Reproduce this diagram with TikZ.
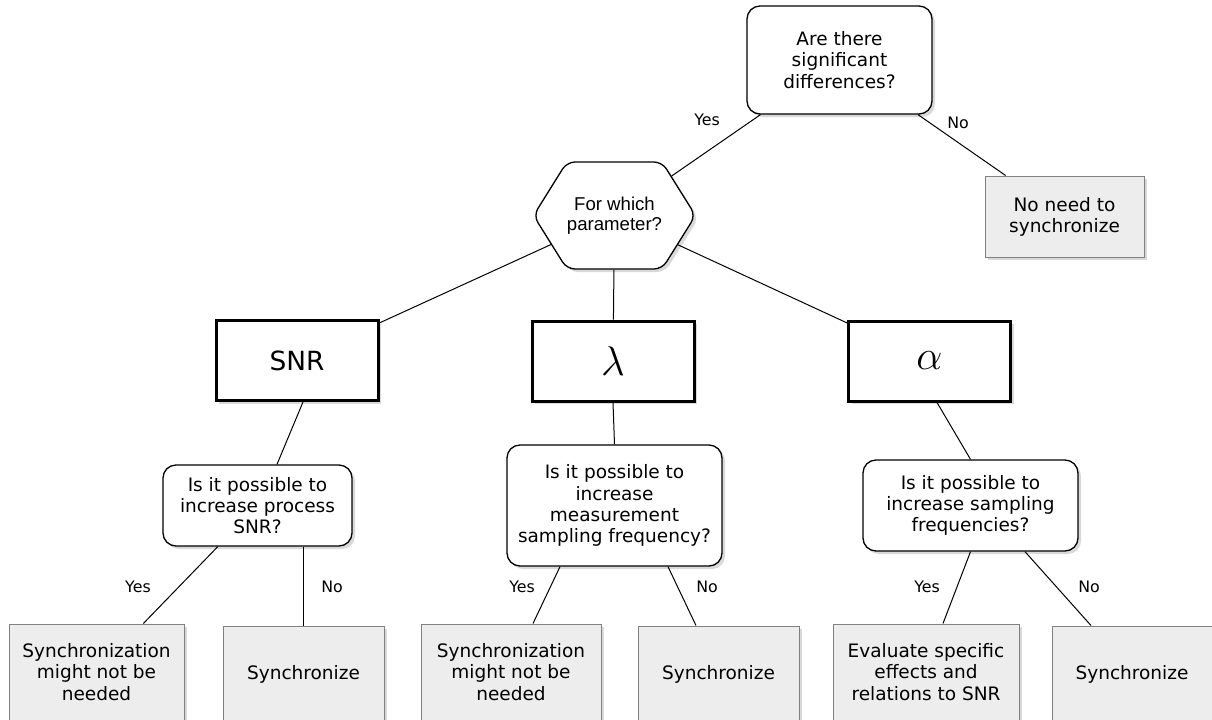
\documentclass[tikz,border=0pt]{standalone}
\usepackage{fontspec}
\setmainfont{DejaVu Sans}
\newfontfamily\hexfont{Liberation Sans}
\usetikzlibrary{shapes.symbols,shadows}

\begin{document}
\begin{tikzpicture}[x=0.5pt, y=-0.5pt,
  shade/.style={drop shadow={shadow xshift=1.5pt, shadow yshift=-1.5pt, opacity=0.3}},
  question/.style={draw, line width=0.65pt, rounded corners=6.5pt, fill=white, shade,
    align=center, inner sep=0pt, font=\fontsize{9.25}{10.6}\selectfont},
  param/.style={draw, line width=1.5pt, fill=white, shade, inner sep=0pt,
    minimum width=81pt, minimum height=40pt},
  answer/.style={draw=black!50, line width=0.5pt, fill=black!7, shade, align=center,
    inner sep=0pt, minimum height=48pt, font=\fontsize{9.25}{10.6}\selectfont},
  link/.style={line width=0.5pt},
  branch/.style={inner sep=0pt, font=\fontsize{7.9}{9}\selectfont}]
  \useasboundingbox (0,0) rectangle (1212,719);

  % Top question
  \node[question, minimum width=92.5pt, minimum height=54pt] (top) at (839.5,60)
    {Are there\\significant\\differences?};
  \node[answer, minimum width=79.5pt, minimum height=40.5pt] (nosync) at (1064.5,216.5)
    {No need to\\synchronize};
  \node[draw, line width=0.65pt, rounded corners=4pt, fill=white, shade,
    signal, signal to=west and east, signal pointer angle=116, inner sep=0pt,
    minimum width=77.5pt, minimum height=53.5pt, align=center,
    font=\hexfont\fontsize{9.3}{10}\selectfont] (hex) at (614.5,215.5)
    {For which\\parameter?};

  % Parameters
  \node[param, font=\fontsize{13.2}{15}\selectfont] (snr) at (297,360.5) {SNR};
  \node[param, font=\fontsize{20}{22}\selectfont] (lam) at (613,361) {$\lambda$};
  \node[param, font=\fontsize{20}{22}\selectfont] (alph) at (929.5,361) {$\alpha$};

  % Second questions
  \node[question, minimum width=94.5pt, minimum height=40.5pt] (qsnr) at (257.5,505.5)
    {Is it possible to\\increase process\\SNR?};
  \node[question, minimum width=107.5pt, minimum height=60.5pt] (qlam) at (614.5,505.5)
    {Is it possible to\\increase\\measurement\\sampling frequency?};
  \node[question, minimum width=107.5pt, minimum height=45.5pt] (qalph) at (970.5,505.5)
    {Is it possible to\\increase sampling\\frequencies?};

  % Answers
  \node[answer, minimum width=87.5pt] (maybe1) at (96.5,672)
    {Synchronization\\might not be\\needed};
  \node[answer, minimum width=80.5pt] (sync1) at (303.5,674) {Synchronize};
  \node[answer, minimum width=90pt] (maybe2) at (511,672)
    {Synchronization\\might not be\\needed};
  \node[answer, minimum width=80.5pt] (sync2) at (718.5,674) {Synchronize};
  \node[answer, minimum width=93pt] (eval) at (926,672)
    {Evaluate specific\\effects and\\relations to SNR};
  \node[answer, minimum width=80pt] (sync3) at (1132,674) {Synchronize};

  % Connectors
  \draw[link] (top) -- (hex);
  \draw[link] (top) -- (nosync);
  \draw[link] (hex) -- (snr);
  \draw[link] (hex) -- (lam);
  \draw[link] (hex) -- (alph);
  \draw[link] ([xshift=3pt]snr.south) -- ([xshift=9.75pt]qsnr.north);
  \draw[link] (lam.south) -- (qlam.north);
  \draw[link] ([xshift=3.75pt]alph.south) -- (qalph.north);
  \draw[link] (qsnr) -- (maybe1);
  \draw[link] (sync1.north |- qsnr.south) -- (sync1.north);
  \draw[link] ([xshift=-27.25pt]qlam.south) -- ([xshift=11pt]maybe2.north);
  \draw[link] ([xshift=26.75pt]qlam.south) -- ([xshift=-11.25pt]sync2.north);
  \draw[link] (qalph.south) -- ([xshift=8.5pt]eval.north);
  \draw[link] ([xshift=27.25pt]qalph.south) -- ([xshift=-20.5pt]sync3.north);

  % Branch labels
  \node[branch] (yes0) at (707,120) {Yes};
  \node[branch] (no0) at (958,123) {No};
  \node[branch] (yes1) at (138,587) {Yes};
  \node[branch] (no1) at (332,587) {No};
  \node[branch] (yes2) at (522,587) {Yes};
  \node[branch] (no2) at (707,587) {No};
  \node[branch] (yes3) at (927,587) {Yes};
  \node[branch] (no3) at (1089,587) {No};
\end{tikzpicture}
\end{document}
